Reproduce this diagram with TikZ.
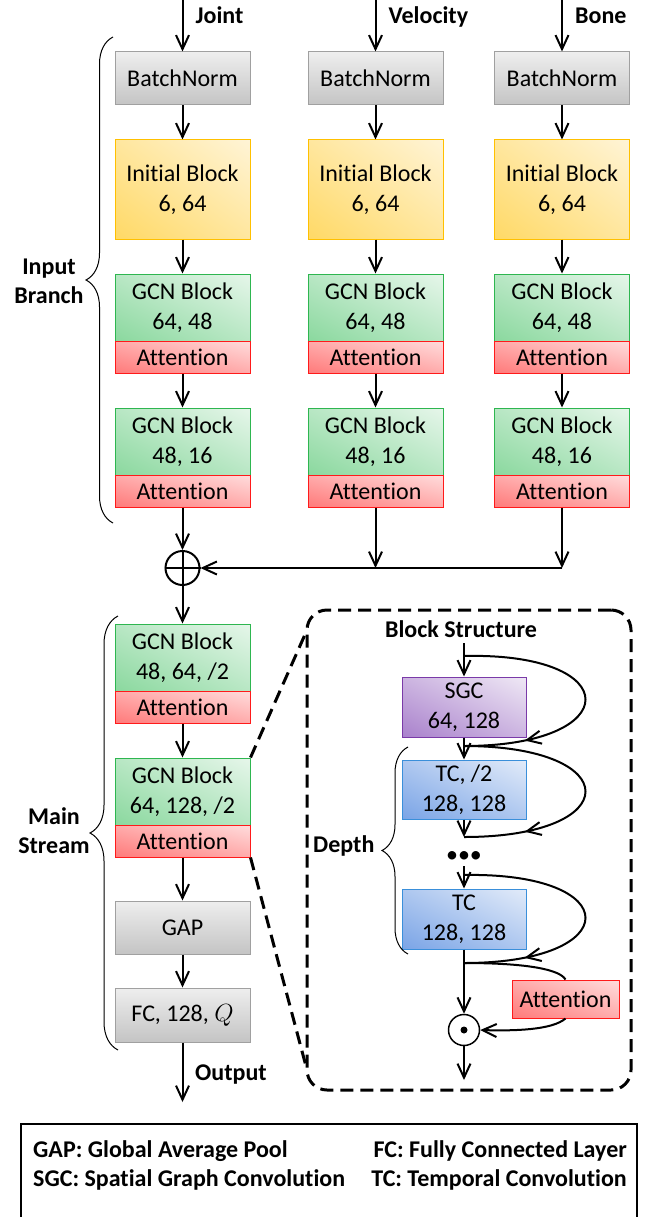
\documentclass[tikz,border=0pt]{standalone}
\usepackage{fontspec}
\setmainfont{Carlito}[Ligatures=CommonOff]
\usetikzlibrary{arrows.meta,decorations.pathreplacing,decorations.markings,calc,shadings}

\definecolor{gLight}{HTML}{EEEEEE}
\definecolor{gDark}{HTML}{C4C4C4}
\definecolor{gLine}{HTML}{A0A0A0}
\definecolor{yLight}{HTML}{FFF4D6}
\definecolor{yDark}{HTML}{FFD966}
\definecolor{yLine}{HTML}{FFC000}
\definecolor{grLight}{HTML}{E6F6EA}
\definecolor{grDark}{HTML}{8AD89E}
\definecolor{grLine}{HTML}{2EB650}
\definecolor{rLight}{HTML}{FFDCDC}
\definecolor{rDark}{HTML}{FF7A7A}
\definecolor{rLine}{HTML}{FF1A1A}
\definecolor{pLight}{HTML}{EFE8F5}
\definecolor{pDark}{HTML}{A981CC}
\definecolor{pLine}{HTML}{7A3AA8}
\definecolor{bLight}{HTML}{E2EBF9}
\definecolor{bDark}{HTML}{7AA4E6}
\definecolor{bLine}{HTML}{3A8FDA}

\begin{document}
\begin{tikzpicture}[x=1pt,y=-1pt,
  every node/.style={font=\fontsize{24pt}{30pt}\selectfont},
  lbl/.style={font=\fontsize{24pt}{29pt}\selectfont\bfseries, inner sep=0pt, align=center},
  blk/.style={rectangle, draw, line width=1pt, inner sep=0pt, align=center, minimum width=135pt},
  diag/.style 2 args={lower left=#1, upper right=#2,
    upper left=#1!50!#2, lower right=#1!50!#2},
  graybox/.style={blk, draw=gLine, top color=gLight, bottom color=gDark},
  yellowbox/.style={blk, draw=yLine, diag={yDark}{yLight}},
  greenbox/.style={blk, draw=grLine, diag={grDark}{grLight}},
  redbox/.style={blk, draw=rLine, diag={rDark}{rLight}},
  purplebox/.style={blk, draw=pLine, diag={pDark}{pLight}, minimum width=124pt},
  bluebox/.style={blk, draw=bLine, diag={bDark}{bLight}, minimum width=124pt},
  tipshape/.tip={Straight Barb[length=14pt,width=13pt]},
  arr/.style={line width=2pt, -tipshape},
  plain/.style={line width=2pt},
  skiparc/.style={line width=2pt,
    decoration={markings, mark=at position 0.78 with {\arrow{tipshape}}},
    postaction={decorate}},
  dashline/.style={line width=3pt, dash pattern=on 13pt off 7pt},
  curly/.style={line width=1pt, decorate, decoration={brace, amplitude=#1}},
]
\useasboundingbox (0,0) rectangle (649,1217);
\clip (0,0) rectangle (649,1217);

% ---------- three input branches ----------
\foreach \c/\x/\lab in {1/182.5/Joint, 2/375.5/Velocity, 3/562/Bone} {
  \coordinate (in\c) at (\x,0);
  \node[lbl, anchor=base west] (name\c) at (\x+13,24) {\lab};
  \node[graybox, minimum height=53pt] (bn\c) at (\x,78.5) {BatchNorm};
  \node[yellowbox, minimum height=99pt] (ib\c) at (\x,189.5) {Initial Block\\6, 64};
  \node[greenbox, minimum height=67pt] (ga\c) at (\x,307.5) {GCN Block\\64, 48};
  \node[redbox, minimum height=32pt] (aa\c) at (\x,357) {Attention};
  \node[greenbox, minimum height=67pt] (gb\c) at (\x,441.5) {GCN Block\\48, 16};
  \node[redbox, minimum height=32pt] (ab\c) at (\x,491) {Attention};
  \draw[arr] (in\c) -- (bn\c.north);
  \draw[arr] (bn\c.south) -- (ib\c.north);
  \draw[arr] (ib\c.south) -- (ga\c.north);
  \draw[arr] (aa\c.south) -- (gb\c.north);
}

% ---------- fusion ----------
\node[circle, draw, line width=2pt, minimum size=34pt, inner sep=0pt] (sum) at (182.5,568) {};
\draw[plain] (sum.north) -- (sum.south) (sum.west) -- (sum.east);
\coordinate (m2) at (375.5,568);
\coordinate (m3) at (562,568);
\draw[arr] (ab1.south) -- (sum.north);
\draw[arr] (ab2.south) -- (m2);
\draw[arr] (ab3.south) -- (m3);
\draw[arr] (m3) -- (sum.east);

\draw[curly=27pt] (113,523) -- (113,37);
\node[lbl] (inlbl) at (49,281) {Input\\Branch};

% ---------- main stream ----------
\node[greenbox, minimum height=67pt] (ma) at (182.5,657.5) {GCN Block\\48, 64, /2};
\node[redbox, minimum height=32pt] (maa) at (182.5,707) {Attention};
\node[greenbox, minimum height=67pt] (mb) at (182.5,791.5) {GCN Block\\64, 128, /2};
\node[redbox, minimum height=32pt] (mba) at (182.5,841) {Attention};
\node[graybox, minimum height=53pt] (gap) at (182.5,927.5) {GAP};
\node[graybox, minimum height=54pt] (fc) at (182.5,1015) {FC, 128, $Q$};
\coordinate (out) at (182.5,1102);
\node[lbl, anchor=base west] (outlbl) at (195,1080) {Output};

\draw[arr] (sum.south) -- (ma.north);
\draw[arr] (maa.south) -- (mb.north);
\draw[arr] (mba.south) -- (gap.north);
\draw[arr] (gap.south) -- (fc.north);
\draw[arr] (fc.south) -- (out);

\draw[curly=28pt] (118,1050) -- (118,616);
\node[lbl] (mslbl) at (54,831) {Main\\Stream};

% ---------- block structure detail ----------
\node[rectangle, draw, line width=3pt, dash pattern=on 13pt off 7pt, rounded corners=20pt,
      minimum width=324pt, minimum height=480pt, inner sep=0pt] (detail) at (469,850) {};
\coordinate (zt) at (307,630);
\coordinate (zb) at (307,1070);
\draw[dashline] (mb.north east) -- (zt);
\draw[dashline] (mba.south east) -- (zb);

\node[lbl, anchor=base] (bs) at (461,637) {Block Structure};
\node[purplebox, minimum height=60pt] (sgc) at (464,707) {SGC\\64, 128};
\node[bluebox, minimum height=59pt] (tc2) at (464,789.5) {TC, /2\\128, 128};
\node[inner sep=0pt] (dots) at (464,857) {•••};
\node[bluebox, minimum height=60pt] (tc) at (464,919) {TC\\128, 128};
\node[redbox, minimum width=107pt, minimum height=38pt] (att3) at (565.5,999) {Attention};
\node[circle, draw, line width=1.5pt, minimum size=31pt, inner sep=0pt] (cdot) at (464,1030) {};
\fill (cdot.center) circle (3.5pt);

\coordinate (bsfoot) at (464,643);
\coordinate (j0) at (464,656);
\coordinate (j1) at (464,746);
\coordinate (j2) at (464,837);
\coordinate (d3) at (464,866);
\coordinate (j3) at (464,875);
\coordinate (j4) at (464,963);
\coordinate (fin) at (464,1080);

\draw[arr] (bsfoot) -- (sgc.north);
\draw[arr] (sgc.south) -- (tc2.north);
\draw[arr] (tc2.south) -- (j2);
\draw[arr] (d3) -- (tc.north);
\draw[arr] (tc.south) -- (cdot.north);
\draw[arr] (cdot.south) -- (fin);

\draw[skiparc] (j0) .. controls (626,652) and (626,746) .. (j1);
\draw[skiparc] (j1) .. controls (626,746) and (626,837) .. (j2);
\draw[skiparc] (j3) .. controls (626,872) and (626,963) .. (j4);

\draw[plain] (j4) .. controls (530,963) and (560,970) .. (att3.north);
\draw[arr] (att3.south) .. controls (552,1030) and (515,1031) .. (cdot.east);

\draw[curly=26pt] (408,954) -- (408,747);
\node[lbl, anchor=base west] (depthlbl) at (313,852) {Depth};

% ---------- legend ----------
\node[rectangle, draw, line width=1.5pt, minimum width=616pt, minimum height=130pt,
      inner sep=0pt, anchor=north west] (legend) at (20,1123) {};
\node[lbl, anchor=base west] (lgap) at (33,1157) {GAP: Global Average Pool};
\node[lbl, anchor=base west] (lsgc) at (33,1186) {SGC: Spatial Graph Convolution};
\node[lbl, anchor=base east] (lfc) at (627,1157) {FC: Fully Connected Layer};
\node[lbl, anchor=base east] (ltc) at (627,1186) {TC: Temporal Convolution};
\end{tikzpicture}
\end{document}
